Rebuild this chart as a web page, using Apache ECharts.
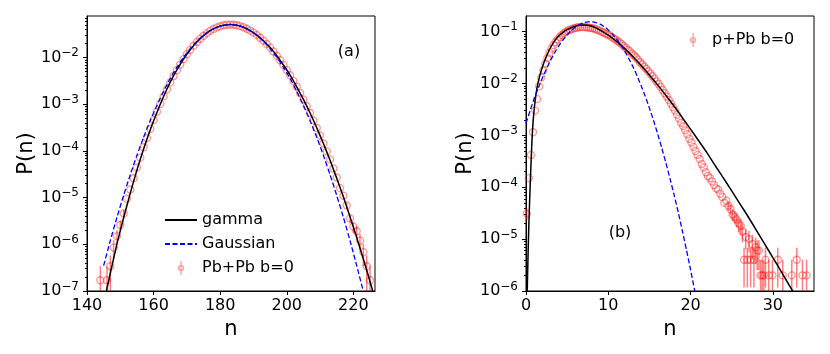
<!DOCTYPE html>
<html>
<head>
<meta charset="utf-8">
<script src="https://cdn.jsdelivr.net/npm/echarts@6/dist/echarts.min.js"></script>
<style>
  html, body { margin: 0; padding: 0; background: #fff; }
  #chart { width: 830px; height: 354px; }
</style>
</head>
<body>
<div id="chart"></div>
<script>
// ---------- panel (a): Pb+Pb b=0 ----------
const pbN = [144, 146, 147, 148, 149, 150, 151, 152, 153, 154, 155, 156, 157, 158, 159, 160,
  161, 162, 163, 164, 165, 166, 167, 168, 169, 170, 171, 172, 173, 174, 175, 176, 177, 178,
  179, 180, 181, 182, 183, 184, 185, 186, 187, 188, 189, 190, 191, 192, 193, 194, 195, 196,
  197, 198, 199, 200, 201, 202, 203, 204, 205, 206, 207, 208, 209, 210, 211, 212, 213, 214,
  215, 216, 217, 218, 219, 220, 221, 222, 223, 224, 225];
const pbP = [1.7e-7, 1.7e-7, 3.4e-7, 8.5e-7, 1.5e-6, 2.6e-6, 4.6e-6, 9.5e-6, 1.5e-5, 2.6e-5,
  4.4e-5, 7.2e-5, 1.2e-4, 1.9e-4, 3.0e-4, 4.6e-4, 6.9e-4, 1.02e-3, 1.48e-3, 2.1e-3, 2.95e-3,
  4.05e-3, 5.4e-3, 7.1e-3, 9.3e-3, 1.18e-2, 1.47e-2, 1.8e-2, 2.16e-2, 2.55e-2, 2.95e-2, 3.35e-2,
  3.75e-2, 4.12e-2, 4.45e-2, 4.72e-2, 4.93e-2, 5.05e-2, 5.1e-2, 5.05e-2, 4.93e-2, 4.73e-2,
  4.47e-2, 4.16e-2, 3.8e-2, 3.43e-2, 3.05e-2, 2.67e-2, 2.3e-2, 1.96e-2, 1.64e-2, 1.35e-2,
  1.1e-2, 8.8e-3, 6.95e-3, 5.4e-3, 4.2e-3, 3.17e-3, 2.37e-3, 1.75e-3, 1.27e-3, 9.1e-4, 6.5e-4,
  4.5e-4, 3.1e-4, 2.15e-4, 1.45e-4, 9.8e-5, 6.6e-5, 4.2e-5, 2.7e-5, 1.6e-5, 1.1e-5, 6.8e-6,
  3.6e-6, 2.4e-6, 1.9e-6, 1.2e-6, 6.8e-7, 3.4e-7, 1.7e-7];
// error bars [n, low, high] (only where they show outside the marker)
const pbErr = [[144, 1e-9, 3.4e-7], [146, 1e-9, 3.4e-7], [147, 1.0e-7, 5.8e-7],
  [148, 4.7e-7, 1.23e-6], [149, 1.0e-6, 2.0e-6], [150, 1.94e-6, 3.26e-6], [151, 3.7e-6, 5.5e-6],
  [218, 5.7e-6, 7.9e-6], [219, 2.8e-6, 4.4e-6], [220, 1.76e-6, 3.04e-6], [221, 1.33e-6, 2.47e-6],
  [222, 7.5e-7, 1.65e-6], [223, 3.4e-7, 1.02e-6], [224, 1.0e-7, 5.8e-7], [225, 1e-9, 3.4e-7]];

const pbGammaN = [145, 147, 149, 151, 153, 155, 157, 159, 161, 163, 165, 167, 169, 171, 173,
  175, 177, 179, 181, 183, 185, 187, 189, 191, 193, 195, 197, 199, 201, 203, 205, 207, 209,
  211, 213, 215, 217, 219, 221, 223, 225, 227];
const pbGammaP = [5.3e-8, 2.4e-7, 1.02e-6, 3.7e-6, 1.25e-5, 3.9e-5, 1.1e-4, 2.86e-4, 6.7e-4,
  1.47e-3, 2.98e-3, 5.44e-3, 9.35e-3, 1.48e-2, 2.17e-2, 2.96e-2, 3.77e-2, 4.46e-2, 4.94e-2,
  5.1e-2, 4.94e-2, 4.48e-2, 3.81e-2, 3.05e-2, 2.3e-2, 1.64e-2, 1.1e-2, 6.95e-3, 4.23e-3,
  2.37e-3, 1.27e-3, 6.5e-4, 3.14e-4, 1.45e-4, 6.3e-5, 2.62e-5, 1.04e-5, 3.9e-6, 1.4e-6,
  4.85e-7, 1.6e-7, 5e-8];

const pbGaussN = [145, 147, 149, 151, 153, 155, 157, 159, 161, 163, 165, 167, 169, 171, 173,
  175, 177, 179, 181, 183, 185, 187, 189, 191, 193, 195, 197, 199, 201, 203, 205, 207, 209,
  211, 213, 215, 217, 219, 221, 223];
const pbGaussP = [3.5e-7, 1.2e-6, 3.8e-6, 1.12e-5, 3.1e-5, 8.1e-5, 1.96e-4, 4.5e-4, 9.5e-4,
  1.9e-3, 3.6e-3, 6.2e-3, 1.02e-2, 1.56e-2, 2.24e-2, 3.01e-2, 3.79e-2, 4.47e-2, 4.94e-2,
  5.1e-2, 4.94e-2, 4.47e-2, 3.79e-2, 3.01e-2, 2.24e-2, 1.56e-2, 1.02e-2, 6.2e-3, 3.6e-3,
  1.9e-3, 9.5e-4, 4.5e-4, 1.96e-4, 8.1e-5, 3.1e-5, 1.12e-5, 3.8e-6, 1.2e-6, 3.5e-7, 9.8e-8];

// ---------- panel (b): p+Pb b=0 ----------
const ppbN = [0.1, 0.35, 0.6, 0.85, 1.1, 1.35, 1.6, 1.85, 2.1, 2.35, 2.6, 2.85, 3.1, 3.35, 3.6,
  3.85, 4.1, 4.35, 4.6, 4.85, 5.1, 5.35, 5.6, 5.85, 6.1, 6.35, 6.6, 6.85, 7.1, 7.35, 7.6, 7.85,
  8.1, 8.35, 8.6, 8.85, 9.1, 9.35, 9.6, 9.85, 10.1, 10.35, 10.6, 10.85, 11.1, 11.35, 11.6,
  11.85, 12.1, 12.35, 12.6, 12.85, 13.1, 13.35, 13.6, 13.85, 14.1, 14.35, 14.6, 14.85, 15.1,
  15.35, 15.6, 15.85, 16.1, 16.35, 16.6, 16.85, 17.1, 17.35, 17.6, 17.85, 18.1, 18.35, 18.6,
  18.85, 19.1, 19.35, 19.6, 19.85, 20.1, 20.35, 20.6, 20.85, 21.1, 21.35, 21.6, 21.85, 22.1,
  22.35, 22.6, 22.85, 23.1, 23.35, 23.6, 23.85, 24.1, 24.35, 24.6, 24.85, 25.1, 25.35, 25.6,
  25.85, 26.1, 26.3, 26.5, 26.7, 26.9, 27.1, 27.3, 27.5, 27.7, 27.9, 28.1, 28.3, 28.5, 28.7,
  28.9, 29.1, 29.5, 29.95, 30.6, 31.2, 32.3, 32.9, 33.6, 34.1];
const ppbP = [3.1e-5, 1.5e-4, 4.2e-4, 1.15e-3, 3.0e-3, 5.0e-3, 8.8e-3, 1.3e-2, 1.8e-2, 2.4e-2,
  3.1e-2, 3.9e-2, 4.7e-2, 5.5e-2, 6.3e-2, 7.1e-2, 7.9e-2, 8.6e-2, 9.3e-2, 9.9e-2, 0.104, 0.109,
  0.113, 0.116, 0.119, 0.121, 0.122, 0.122, 0.122, 0.121, 0.119, 0.118, 0.116, 0.113, 0.109,
  0.105, 0.101, 0.097, 0.093, 0.089, 0.085, 0.080, 0.075, 0.071, 0.066, 0.062, 0.058, 0.053,
  0.049, 0.045, 0.042, 0.038, 0.035, 0.032, 0.029, 0.026, 0.0235, 0.0213, 0.0192, 0.0172,
  0.0155, 0.0139, 0.0124, 0.0110, 9.8e-3, 8.6e-3, 7.5e-3, 6.5e-3, 5.6e-3, 4.8e-3, 4.1e-3,
  3.5e-3, 3.0e-3, 2.5e-3, 2.1e-3, 1.75e-3, 1.5e-3, 1.25e-3, 1.05e-3, 8.6e-4, 7.3e-4, 6.0e-4,
  5.0e-4, 4.2e-4, 3.5e-4, 2.8e-4, 2.4e-4, 1.95e-4, 1.65e-4, 1.5e-4, 1.3e-4, 1.1e-4, 9.5e-5,
  9.0e-5, 7.5e-5, 6.5e-5, 5.0e-5, 5.5e-5, 4.4e-5, 3.8e-5, 3.0e-5, 2.7e-5, 2.4e-5, 2.0e-5,
  1.8e-5, 1.4e-5, 4e-6, 1.1e-5, 4e-6, 1.0e-5, 4e-6, 8e-6, 4e-6, 7e-6, 6e-6, 6e-6, 2e-6, 2e-6,
  2e-6, 4e-6, 2e-6, 2e-6, 4e-6, 2e-6, 2e-6, 4e-6, 2e-6, 2e-6];
const ppbErr = [[0.1, 2.3e-5, 3.9e-5], [24.6, 3.5e-5, 5.3e-5], [24.85, 2.9e-5, 4.7e-5],
  [25.1, 2.2e-5, 3.8e-5], [25.35, 1.97e-5, 3.43e-5], [25.6, 1.7e-5, 3.1e-5],
  [25.85, 1.37e-5, 2.63e-5], [26.1, 1.2e-5, 2.4e-5], [26.3, 8.7e-6, 1.93e-5],
  [26.5, 1.17e-6, 6.83e-6], [26.7, 6.3e-6, 1.57e-5], [26.9, 1.17e-6, 6.83e-6],
  [27.1, 5.5e-6, 1.45e-5], [27.3, 1.17e-6, 6.83e-6], [27.5, 4e-6, 1.2e-5],
  [27.7, 1.17e-6, 6.83e-6], [27.9, 3.3e-6, 1.07e-5], [28.1, 2.5e-6, 9.5e-6],
  [28.3, 2.5e-6, 9.5e-6], [28.5, 1e-9, 4e-6], [28.7, 1e-9, 4e-6], [28.9, 1e-9, 4e-6],
  [29.1, 1.17e-6, 6.83e-6], [29.5, 1e-9, 4e-6], [29.95, 1e-9, 4e-6], [30.6, 1.17e-6, 6.83e-6],
  [31.2, 1e-9, 4e-6], [32.3, 1e-9, 4e-6], [32.9, 1.17e-6, 6.83e-6], [33.6, 1e-9, 4e-6],
  [34.1, 1e-9, 4e-6]];

const ppbGammaN = [0.1, 0.15, 0.25, 0.35, 0.5, 0.7, 0.9, 1.2, 1.5, 2, 2.5, 3, 3.5, 4, 4.5, 5,
  5.5, 6, 6.5, 7, 7.5, 8, 8.5, 9, 10, 11, 12, 13, 14, 15, 16, 17, 18, 19, 20, 21, 22, 23, 24,
  25, 26, 27, 28, 29, 30, 31, 32, 33];
const ppbGammaP = [2e-7, 1e-6, 5e-6, 2e-5, 1e-4, 6.5e-4, 2.2e-3, 6e-3, 1.1e-2, 2.1e-2, 3.4e-2,
  5.0e-2, 6.7e-2, 8.3e-2, 9.7e-2, 0.109, 0.119, 0.127, 0.132, 0.134, 0.132, 0.127, 0.118,
  0.107, 0.086, 0.065, 0.047, 0.0328, 0.0222, 0.0146, 9.4e-3, 5.9e-3, 3.64e-3, 2.2e-3,
  1.32e-3, 7.8e-4, 4.6e-4, 2.6e-4, 1.5e-4, 8.5e-5, 4.8e-5, 2.7e-5, 1.48e-5, 8.1e-6, 4.4e-6,
  2.4e-6, 1.29e-6, 6.9e-7];

const ppbGaussN = [0, 0.5, 1, 1.5, 2, 2.5, 3, 3.5, 4, 4.5, 5, 5.5, 6, 6.5, 7, 7.5, 8, 8.5, 9,
  9.5, 10, 10.5, 11, 11.5, 12, 12.5, 13, 13.5, 14, 14.5, 15, 15.5, 16, 16.5, 17, 17.5, 18,
  18.5, 19, 19.5, 20, 20.5, 21];
const ppbGaussP = [1.72e-3, 3.0e-3, 5.1e-3, 8.2e-3, 1.29e-2, 1.94e-2, 2.82e-2, 3.95e-2, 5.3e-2,
  6.9e-2, 8.7e-2, 0.105, 0.122, 0.137, 0.148, 0.154, 0.1545, 0.149, 0.139, 0.125, 0.108, 0.09,
  0.073, 0.056, 0.042, 0.030, 0.021, 0.014, 9.0e-3, 5.6e-3, 3.35e-3, 1.93e-3, 1.07e-3, 5.7e-4,
  2.96e-4, 1.47e-4, 7.1e-5, 3.3e-5, 1.45e-5, 6.2e-6, 2.56e-6, 1.02e-6, 3.9e-7];

// decade ticks of the two log axes
const yDecadesA = [1e-7, 1e-6, 1e-5, 1e-4, 1e-3, 1e-2];
const yDecadesB = [1e-6, 1e-5, 1e-4, 1e-3, 1e-2, 1e-1];

const FONT = "DejaVu Sans";
const RED = "rgba(255, 0, 0, 0.5)";
const ERR_ICON = "path://M5,0 L5,20 M8.5,10 A3.5,3.5 0 1 1 1.5,10 A3.5,3.5 0 1 1 8.5,10";

const zip = (xs, ys) => xs.map((x, i) => [x, ys[i]]);

function minorTicks(decades, max) {
  const out = [];
  decades.forEach((d) => {
    for (let m = 2; m <= 9; m++) {
      const v = m * d;
      if (v < max) out.push(v);
    }
  });
  return out;
}

function powLabel(v) {
  const e = Math.log10(v);
  if (Math.abs(e - Math.round(e)) > 0.01) return "";
  const r = Math.round(e);
  return "{b|10}{e|" + (r < 0 ? "\u2212" + -r : r) + "}";
}

function xAxisOf(grid, min, max, interval) {
  return {
    gridIndex: grid,
    type: "value",
    min: min,
    max: max,
    interval: interval,
    name: "n",
    nameLocation: "middle",
    nameGap: 22,
    nameTextStyle: { fontSize: 21, color: "#000", fontFamily: FONT },
    axisLine: { lineStyle: { color: "#000", width: 1 } },
    axisTick: { length: 4, lineStyle: { color: "#000" } },
    axisLabel: { fontSize: 16, color: "#000", fontFamily: FONT, margin: 7, showMaxLabel: false },
    splitLine: { show: false },
  };
}

function yAxisOf(grid, min, max, decades, nameGap) {
  return {
    gridIndex: grid,
    type: "log",
    logBase: 10,
    position: "left",
    min: min,
    max: max,
    name: "P(n)",
    nameLocation: "middle",
    nameGap: nameGap,
    nameTextStyle: { fontSize: 21, color: "#000", fontFamily: FONT },
    axisLine: { show: true, lineStyle: { color: "#000", width: 1 } },
    axisTick: { length: 4, lineStyle: { color: "#000" }, customValues: decades },
    axisLabel: {
      customValues: decades,
      margin: 8,
      color: "#000",
      formatter: powLabel,
      rich: {
        b: { fontSize: 16, fontFamily: FONT, color: "#000" },
        e: { fontSize: 12, fontFamily: FONT, color: "#000", verticalAlign: "top", padding: [0, 0, 9, 0] },
      },
    },
    splitLine: { show: false },
  };
}

function minorAxisOf(grid, min, max, decades) {
  return {
    gridIndex: grid,
    type: "log",
    logBase: 10,
    position: "left",
    offset: 0,
    min: min,
    max: max,
    axisLine: { show: false },
    axisLabel: { show: false },
    splitLine: { show: false },
    axisTick: { length: 2, lineStyle: { color: "#000" }, customValues: minorTicks(decades, max) },
  };
}

function errorBars(name, xi, yi, data) {
  return {
    name: name,
    type: "custom",
    xAxisIndex: xi,
    yAxisIndex: yi,
    clip: true,
    z: 2,
    data: data,
    renderItem: (params, api) => {
      const x = api.value(0);
      const p1 = api.coord([x, api.value(1)]);
      const p2 = api.coord([x, api.value(2)]);
      return {
        type: "line",
        shape: { x1: p1[0], y1: p1[1], x2: p2[0], y2: p2[1] },
        style: { stroke: RED, lineWidth: 1.5 },
      };
    },
  };
}

function points(name, xi, yi, data) {
  return {
    name: name,
    type: "scatter",
    xAxisIndex: xi,
    yAxisIndex: yi,
    symbol: "circle",
    symbolSize: 7,
    z: 2,
    itemStyle: { color: "rgba(0,0,0,0)", borderColor: RED, borderWidth: 1.4 },
    data: data,
  };
}

function curve(name, xi, yi, data, color, dashed) {
  return {
    name: name,
    type: "line",
    xAxisIndex: xi,
    yAxisIndex: yi,
    symbol: "none",
    smooth: 0.2,
    z: 3,
    lineStyle: { color: color, width: dashed ? 1.3 : 1.5, type: dashed ? [5, 2.5] : "solid" },
    itemStyle: { color: color },
    data: data,
  };
}

const chart = echarts.init(document.getElementById("chart"));

const legendText = { fontSize: 16, color: "#000", fontFamily: FONT };
const noSymbol = { opacity: 0 };
const openMarker = { color: "rgba(0,0,0,0)", borderColor: RED, borderWidth: 1.3 };

chart.setOption({
  animation: false,
  backgroundColor: "#fff",
  textStyle: { fontFamily: FONT },
  grid: [
    { left: 87, top: 16, width: 288, height: 275, show: true, borderColor: "#000", borderWidth: 1, containLabel: false, outerBoundsMode: "none" },
    { left: 526, top: 16, width: 288, height: 275, show: true, borderColor: "#000", borderWidth: 1, containLabel: false, outerBoundsMode: "none" },
  ],
  xAxis: [xAxisOf(0, 140, 226.5, 20), xAxisOf(1, 0, 35, 10)],
  yAxis: [
    yAxisOf(0, 1e-7, 0.078, yDecadesA, 50),
    yAxisOf(1, 1e-6, 0.2, yDecadesB, 50),
    minorAxisOf(0, 1e-7, 0.078, yDecadesA),
    minorAxisOf(1, 1e-6, 0.2, yDecadesB),
  ],
  legend: [
    {
      orient: "vertical",
      left: 159,
      top: 207,
      itemWidth: 32,
      itemHeight: 14,
      itemGap: 8,
      textStyle: legendText,
      data: [
        { name: "gamma", itemStyle: noSymbol },
        { name: "Gaussian", itemStyle: noSymbol },
        { name: "Pb+Pb b=0", icon: ERR_ICON, itemStyle: openMarker },
      ],
    },
    {
      orient: "vertical",
      left: 685,
      top: 27,
      itemWidth: 28,
      itemHeight: 14,
      textStyle: legendText,
      data: [{ name: "p+Pb b=0", icon: ERR_ICON, itemStyle: openMarker }],
    },
  ],
  graphic: [
    { type: "text", style: { text: "(a)", x: 349, y: 52, align: "center", verticalAlign: "middle", fontSize: 16, fontFamily: FONT, fill: "#000" } },
    { type: "text", style: { text: "(b)", x: 620, y: 233, align: "center", verticalAlign: "middle", fontSize: 16, fontFamily: FONT, fill: "#000" } },
  ],
  series: [
    errorBars("Pb+Pb err", 0, 0, pbErr),
    points("Pb+Pb b=0", 0, 0, zip(pbN, pbP)),
    curve("gamma", 0, 0, zip(pbGammaN, pbGammaP), "#000", false),
    curve("Gaussian", 0, 0, zip(pbGaussN, pbGaussP), "#0000ff", true),
    errorBars("p+Pb err", 1, 1, ppbErr),
    points("p+Pb b=0", 1, 1, zip(ppbN, ppbP)),
    curve("gamma (b)", 1, 1, zip(ppbGammaN, ppbGammaP), "#000", false),
    curve("Gaussian (b)", 1, 1, zip(ppbGaussN, ppbGaussP), "#0000ff", true),
  ],
});
</script>
</body>
</html>
